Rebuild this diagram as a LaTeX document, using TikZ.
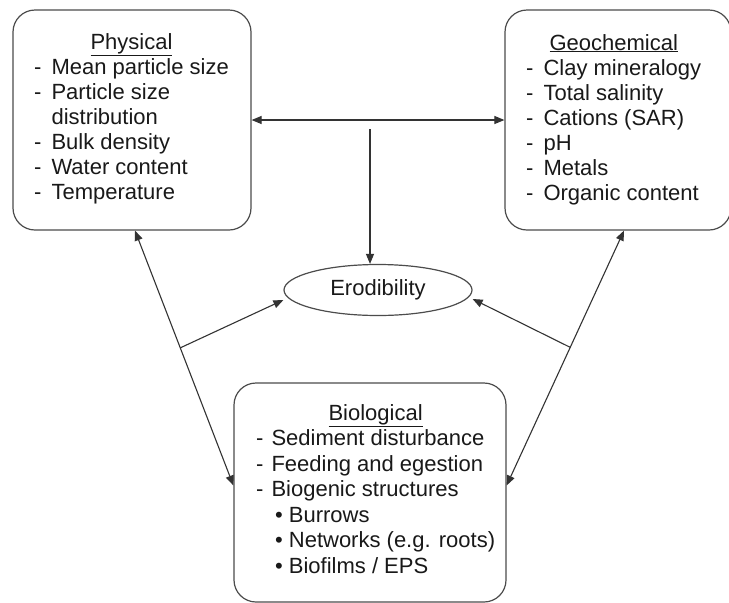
\documentclass[tikz,border=0pt]{standalone}
\usepackage{fontspec}
\setmainfont{Liberation Sans}
\usetikzlibrary{arrows.meta,shapes.geometric,calc}
\newcommand\itemdash{-\hspace{10pt}}
\newcommand\bioitemdash{-\hspace{8pt}}
\newcommand\biobullet{\hspace*{19pt}•\hspace{6pt}}
\begin{document}
\begin{tikzpicture}[x=1pt,y=-1pt,
  box/.style={draw=black!70, line width=1.2pt, rounded corners=22pt, inner sep=0pt},
  txt/.style={font=\fontsize{22}{25}\selectfont, text=black!90, inner sep=0pt, anchor=base west},
  conn/.style={draw=black!80, line width=1.1pt},
  tip/.style={-{Triangle[length=10pt,width=8pt]}},
  dtip/.style={{Triangle[length=10pt,width=8pt]}-{Triangle[length=10pt,width=8pt]}}
]
\useasboundingbox (0,0) rectangle (729,603);
\clip (0,0) rectangle (729,603);
\fill[white] (0,0) rectangle (729,603);

% boxes
\node[box, minimum width=238pt, minimum height=220pt] (phys) at (132,120) {};
\node[box, minimum width=226pt, minimum height=220pt] (geo) at (618,120) {};
\node[box, minimum width=272pt, minimum height=219pt] (bio) at (370,492.5) {};
\node[draw=black!70, line width=1.2pt, ellipse, minimum width=188pt, minimum height=51pt, inner sep=0pt,
      font=\fontsize{22}{25}\selectfont, text=black!90] (ero) at (378,290) {Erodibility};

% texts
\node[txt] (physT) at (34,49) {\begin{tabular}[t]{@{}l@{}}\multicolumn{1}{@{}c@{}}{\underline{Physical}}\\
\itemdash Mean particle size\\
\itemdash Particle size\\
\hphantom{\itemdash}distribution\\
\itemdash Bulk density\\
\itemdash Water content\\
\itemdash Temperature\end{tabular}};

\node[txt] (geoT) at (526,50) {\begin{tabular}[t]{@{}l@{}}\multicolumn{1}{@{}c@{}}{\underline{Geochemical}}\\
\itemdash Clay mineralogy\\
\itemdash Total salinity\\
\itemdash Cations (SAR)\\
\itemdash pH\\
\itemdash Metals\\
\itemdash Organic content\end{tabular}};

\node[txt, font=\fontsize{22}{25.5}\selectfont] (bioT) at (256,420) {\begin{tabular}[t]{@{}l@{}}\multicolumn{1}{@{}c@{}}{\underline{Biological}}\\
\bioitemdash Sediment disturbance\\
\bioitemdash Feeding and egestion\\
\bioitemdash Biogenic structures\\
\biobullet Burrows\\
\biobullet Networks (e.g. roots)\\
\biobullet Biofilms / EPS\end{tabular}};

% connector end points
\coordinate (vtop) at (370,129);
\coordinate (pb) at ([xshift=3pt]phys.south);
\coordinate (gb) at ([xshift=6pt]geo.south);
\coordinate (bl) at ([yshift=7pt]bio.west);
\coordinate (br) at ([yshift=7pt]bio.east);
\coordinate (pl) at ($(pb)!0.46!(bl)$);
\coordinate (pr) at ($(gb)!0.458!(br)$);

% connectors
\draw[conn,dtip] (phys.east) -- (geo.west);
\draw[conn,tip] (vtop) -- (vtop |- ero.north);
\draw[conn,dtip] (pb) -- (bl);
\draw[conn,dtip] (gb) -- (br);
\draw[conn,tip] (pl) -- ([yshift=-10pt]ero.west);
\draw[conn,tip] (pr) -- ([yshift=-9pt]ero.east);
\end{tikzpicture}
\end{document}
